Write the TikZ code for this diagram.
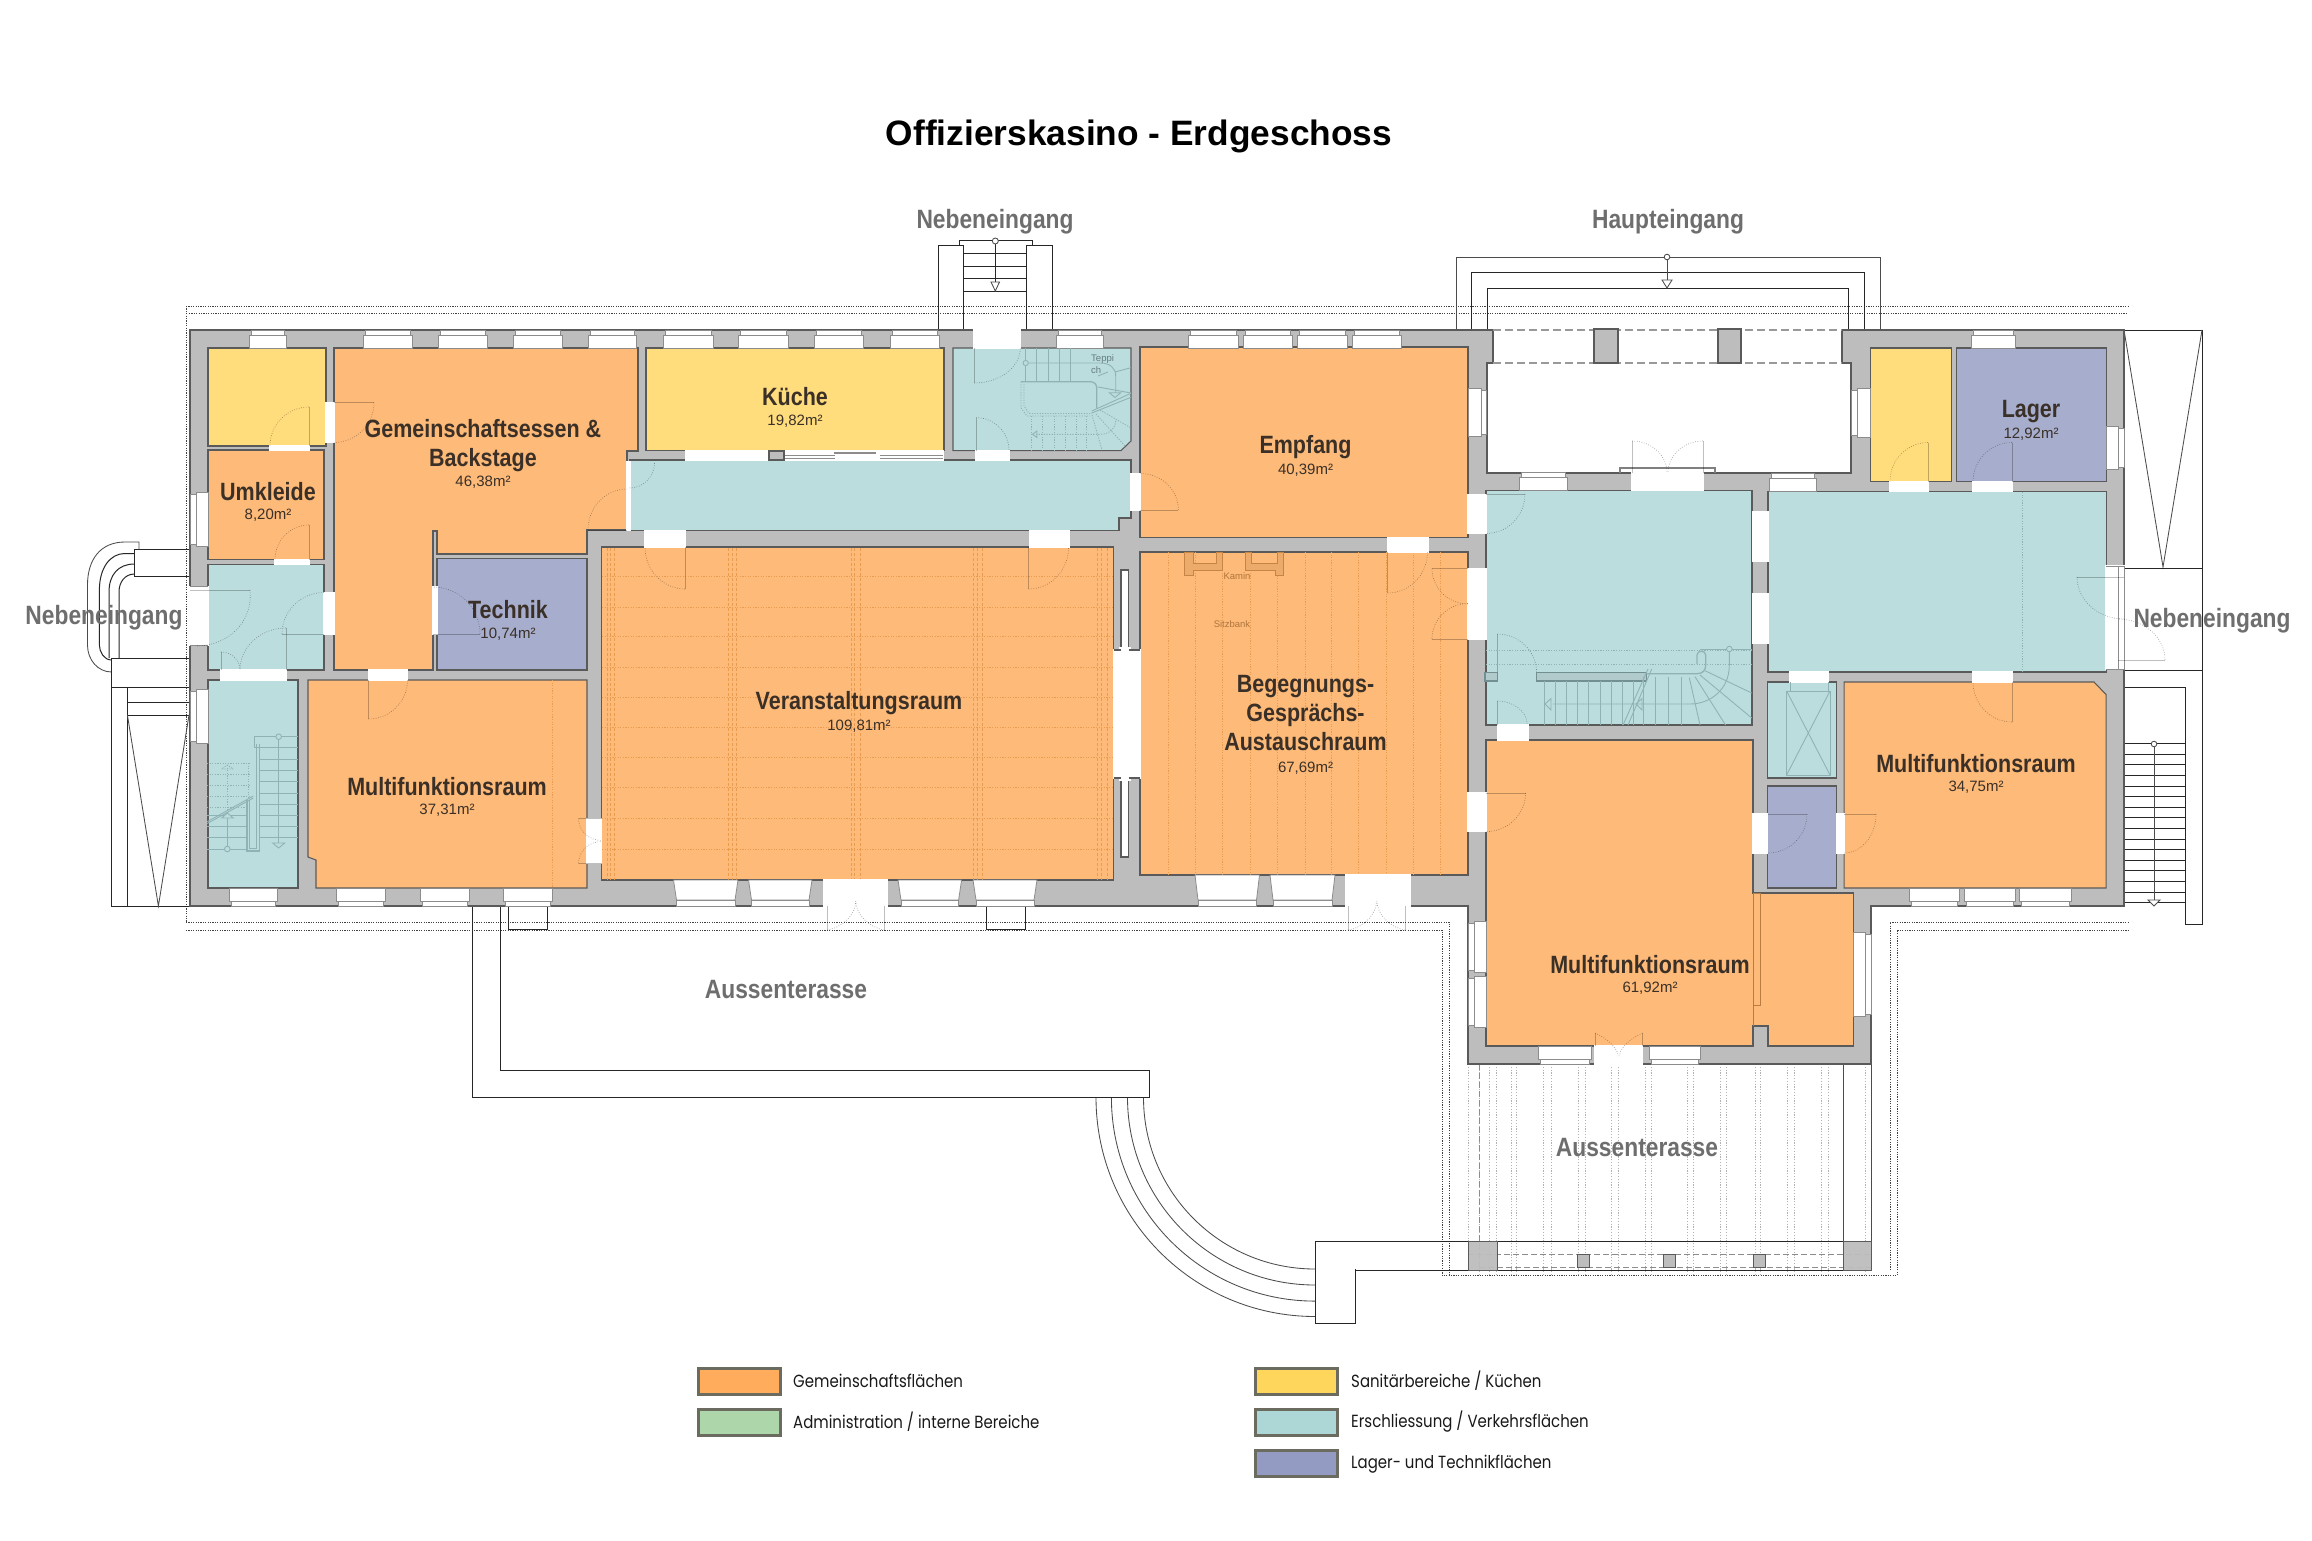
\documentclass[tikz,border=0pt]{standalone}
\usepackage{fontspec}
\setmainfont{Liberation Sans}
\newfontfamily\labf[FakeStretch=0.86]{Liberation Sans}
\newfontfamily\legf[FakeStretch=0.85]{Poppins}
\definecolor{cOr}{HTML}{FEBA78}
\definecolor{cYe}{HTML}{FFDC7C}
\definecolor{cTe}{HTML}{BCDDDD}
\definecolor{cPu}{HTML}{A7ADCC}
\definecolor{cWall}{HTML}{BDBDBD}
\definecolor{cLine}{HTML}{5A5A5A}
\definecolor{cStair}{HTML}{8FB3B5}
\definecolor{cHatch}{HTML}{E99C50}
\definecolor{cText}{HTML}{3A3028}
\definecolor{cGrey}{HTML}{6E6E6E}
\definecolor{lgOr}{HTML}{FFAD5C}
\definecolor{lgGr}{HTML}{ADD6AB}
\definecolor{lgYe}{HTML}{FFD65C}
\definecolor{lgTe}{HTML}{ADD6D6}
\definecolor{lgPu}{HTML}{939BC2}
\definecolor{lgBd}{HTML}{6B6B60}
\tikzset{
 wallline/.style={draw=cLine,line width=1.2pt},
 roomline/.style={draw=cLine,line width=1.05pt,line join=miter},
 ext/.style={draw=black!85,line width=1pt},
 extthin/.style={draw=black!70,line width=0.85pt},
 dots/.style={draw=black!75,line width=0.8pt,dash pattern=on 1.2pt off 1.2pt},
 terr/.style={draw=black!30,line width=0.7pt,dash pattern=on 1.2pt off 1.6pt},
 leafl/.style={draw=black,draw opacity=.25,line width=0.8pt},
 swing/.style={draw=black,draw opacity=.35,line width=0.65pt,dash pattern=on 0.8pt off 1.6pt},
 winl/.style={fill=white,draw=black!45,line width=0.8pt},
 stl/.style={draw=cStair,line width=0.9pt},
 std/.style={draw=cStair,line width=0.9pt,dash pattern=on 1.2pt off 1.4pt},
 title/.style={font=\fontsize{35.3}{40}\selectfont\bfseries,text=black},
 rname/.style={font=\labf\fontsize{25}{29}\selectfont\bfseries,text=cText,align=center,inner sep=0pt},
 rarea/.style={font=\fontsize{15}{18}\selectfont,text=cText,inner sep=0pt},
 outer/.style={font=\labf\fontsize{26.5}{30}\selectfont\bfseries,text=cGrey,inner sep=0pt},
 legtext/.style={font=\legf\fontsize{17.6}{20}\selectfont,text=black!90,anchor=west,inner sep=0pt},
 legbox/.style={draw=lgBd,line width=3pt},
 small/.style={font=\fontsize{9.5}{11}\selectfont,inner sep=0pt,text=#1},
}
\newcommand\rmr[5]{\draw[roomline,fill=#1] (#2,#3) rectangle (#4,#5);}
\newcommand\opn[4]{\fill[white] ({#1-.7},{#2-.7}) rectangle ({#3+.7},{#4+.7});}
\newcommand\wtop[2]{\draw[winl] (#1,335) rectangle (#2,348);\draw[winl] ({#1+2},330) rectangle ({#2-2},335);}
\newcommand\wbot[2]{\draw[winl] (#1,888) rectangle (#2,901);\draw[winl] ({#1+2},901) rectangle ({#2-2},906);}
\newcommand\wtrap[4]{\draw[winl] (#1,#3) -- (#2,#3) -- ({#2-3},{#4-6}) -- ({#1+3},{#4-6}) -- cycle;\draw[winl] ({#1+3},{#4-6}) rectangle ({#2-3},#4);}
\newcommand\wver[5]{\draw[winl] (#3,#1) rectangle (#4,#2);\draw[winl] (#4,{#1+2}) rectangle (#5,{#2-2});}
\newcommand\wdh[5]{\draw[winl] (#1,#3) rectangle (#2,#4);\draw[winl] ({#1+2},#4) rectangle ({#2-2},#5);}
\newcommand\doorx[6]{\draw[leafl] (#1,#2) -- ({#1+#3},{#2+#4});
 \draw[swing] ({#1+#3},{#2+#4}) .. controls ({#1+#3+.5523*#5},{#2+#4+.5523*#6}) and ({#1+#5+.5523*#3},{#2+#6+.5523*#4}) .. ({#1+#5},{#2+#6});}
\newcommand\qcurve[6]{({#1+#3},{#2+#4}) .. controls ({#1+#3+.5523*#5},{#2+#4+.5523*#6}) and ({#1+#5+.5523*#3},{#2+#6+.5523*#4}) .. ({#1+#5},{#2+#6})}
\begin{document}
\begin{tikzpicture}[x=1pt,y=-1pt]
\useasboundingbox (0,0) rectangle (2312,1541);
\fill[white] (0,0) rectangle (2312,1541);
% ---------- dotted site lines
\draw[dots] (186,306) -- (2128,306);
\draw[dots] (189,313) -- (2128,313);
\draw[dots] (186,306) -- (186,922);
\draw[dots] (186,922) -- (1449,922) -- (1449,1275);
\draw[dots] (186,930) -- (1442,930) -- (1442,1275.5) -- (1897,1275.5) -- (1897,930) -- (2128,930);
\draw[dots] (1890,1270) -- (1890,922) -- (2128,922);
% terrace right
\foreach \z in {748,765,778,803,813,860,873,920,932,978,990,1037,1048,1110,1120,1168,1178,1228,1238,1285,1297,1343,1355,1420}
 \draw[terr] ({1050+\z/1.742},1064) -- ({1050+\z/1.742},1275);
\draw[terr] (1468,1064) -- (1468,1241);
\draw[extthin] (1843,1064) -- (1843,1241);
\draw[extthin] (1871,1064) -- (1871,1241);
\draw[draw=black!45,line width=0.9pt,dash pattern=on 6pt off 3pt] (1479,1064) -- (1479,1267);
\draw[draw=black!45,line width=0.9pt,dash pattern=on 6pt off 3pt] (1468,1254) -- (1871,1254);
\draw[draw=black!45,line width=0.9pt,dash pattern=on 6pt off 3pt] (1479,1267) -- (1871,1267);
\draw[ext] (1315,1241) -- (1871,1241);
\draw[ext] (1355,1270) -- (1871,1270);
\draw[ext,fill=white] (1315,1241) -- (1355,1241) -- (1355,1323) -- (1315,1323) -- cycle;
\fill[white] (1316,1242) rectangle (1356,1269);
\draw[ext] (1315,1241) -- (1355,1241);
\draw[draw=cLine,fill=cWall,line width=1pt,fill opacity=.95] (1468,1241) rectangle (1497,1270);
\draw[draw=cLine,fill=cWall,line width=1pt,fill opacity=.95] (1843,1241) rectangle (1871,1270);
\foreach \a in {1577,1663,1753}
 \draw[draw=cLine,fill=cWall,line width=1pt] (\a,1254) rectangle ({\a+12.5},1267);
% curved steps
\foreach \r in {171.5,187.5,203.6,219}
 \draw[extthin] \qcurve{1315}{1097.5}{-\r}{0}{0}{\r};
% L terrace
\draw[ext] (472.3,906) -- (472.3,1097.7) -- (1149,1097.7) -- (1149,1070.5) -- (500,1070.5) -- (500,906);
\draw[ext] (508,906) -- (508,929.7) -- (547.7,929.7) -- (547.7,906);
\draw[ext] (986,906) -- (986,929.7) -- (1025.6,929.7) -- (1025.6,906);
% north side stairs
\draw[ext] (938,330) -- (938,245) -- (963.7,245) -- (963.7,330);
\draw[ext] (1026.7,330) -- (1026.7,245) -- (1052,245) -- (1052,330);
\draw[ext] (959,245) -- (959,240.7) -- (1032,240.7) -- (1032,245);
\foreach \y in {253,266,278.7,291.3} \draw[ext] (963.7,\y) -- (1026.7,\y);
\draw[ext] (995.3,244) -- (995.3,282);
\draw[extthin,fill=white] (995.3,241) circle (3);
\draw[extthin,fill=white] (991,282) -- (999.5,282) -- (995.3,291) -- cycle;
% main entrance
\draw[extthin] (1456,330) -- (1456,257) -- (1880,257) -- (1880,330);
\draw[ext] (1471,330) -- (1471,272.7) -- (1864,272.7) -- (1864,330);
\draw[ext] (1487,330) -- (1487,288.3) -- (1848,288.3) -- (1848,330);
\draw[extthin] (1667,260) -- (1667,280);
\draw[extthin,fill=white] (1667,257) circle (2.8);
\draw[extthin,fill=white] (1662,280) -- (1672,280) -- (1667,288) -- cycle;
% west entrance
\draw[extthin] (139,549) -- (139,542) -- (125,542) .. controls (100,542) and (87.5,560) .. (87.5,585) -- (87.5,645) .. controls (87.5,660) and (98,672) .. (111.6,672);
\draw[ext] (134.6,553.5) -- (125,553.5) .. controls (110,553.5) and (99.4,568) .. (99.4,590) -- (99.4,645) .. controls (99.4,652) and (104,660) .. (111.6,660);
\draw[ext] (134.6,564) .. controls (118,564) and (109,575) .. (109,592) -- (109,658);
\draw[ext] (134.6,574) .. controls (125,574) and (119,582) .. (119,592) -- (119,658);
\draw[ext] (190,549) -- (134.6,549) -- (134.6,576.5) -- (190,576.5);
\draw[ext] (190,658) -- (111.6,658) -- (111.6,906) -- (190,906);
\draw[ext] (111.6,687.6) -- (190,687.6);
\draw[ext] (127,687.6) -- (127,906);
\draw[ext] (127,702) -- (190,702);
\draw[ext] (127,715) -- (190,715);
\draw[extthin] (127.4,715) -- (158.4,906) -- (189,715);
% east entrance
\draw[ext] (2124,330) -- (2202,330) -- (2202,924) -- (2185,924) -- (2185,687) -- (2124,687);
\draw[extthin] (2124,330) -- (2163,567) -- (2202,330);
\draw[ext] (2124,568) -- (2202,568);
\draw[ext] (2124,670) -- (2202,670);
\foreach \y in {743.6,754.2,764.8,775.4,786,796.6,807.2,817.8,828.4,839,849.6,860.2,870.8,881.4,892,902.5}
 \draw[ext] (2124,\y) -- (2185,\y);
\draw[extthin] (2154,747) -- (2154,900);
\draw[extthin,fill=white] (2154,744) circle (2.8);
\draw[extthin,fill=white] (2148,900) -- (2160,900) -- (2154,906) -- cycle;
% ---------- building mass
\draw[wallline,fill=cWall] (190,330) -- (1493,330) -- (1493,363) -- (1487,363) -- (1487,473) -- (1851,473) -- (1851,363) -- (1842,363) -- (1842,330) -- (2124,330) -- (2124,906) -- (1871,906) -- (1871,1064) -- (1468,1064) -- (1468,906) -- (190,906) -- cycle;
% portico
\fill[white] (1493.6,329) rectangle (1841.4,363);
\draw[draw=black!40,line width=1.2pt,dash pattern=on 8pt off 4pt] (1493,330) -- (1842,330);
\draw[draw=black!40,line width=1.2pt,dash pattern=on 8pt off 4pt] (1493,363) -- (1842,363);
\draw[wallline,fill=cWall] (1594,329) rectangle (1618,363);
\draw[wallline,fill=cWall] (1718,329) rectangle (1741,363);
% ---------- rooms
\rmr{cYe}{208}{348}{326}{446}
\rmr{cOr}{208}{450}{324}{559.5}
\rmr{cTe}{208}{564.5}{324}{670}
\rmr{cTe}{208}{680}{298}{888}
\draw[roomline,fill=cOr] (334,348) -- (638,348) -- (638,451) -- (627,451) -- (627,530) -- (587,530) -- (587,554) -- (437,554) -- (437,531) -- (433,531) -- (433,670) -- (334,670) -- cycle;
\rmr{cPu}{437}{558.6}{587}{670}
\draw[roomline,fill=cOr] (308,680) -- (587,680) -- (587,888) -- (316,888) -- (316,860) -- (308,857) -- cycle;
\rmr{cOr}{601.5}{547}{1113.6}{880}
\rmr{cYe}{646}{348}{944}{450.6}
\draw[roomline,fill=cTe] (953,348) -- (1131,348) -- (1131,441) -- (1121,450.6) -- (953,450.6) -- cycle;
\draw[roomline,fill=cTe] (629.5,460) -- (1131,460) -- (1131,510) -- (1131,518) -- (1119,518) -- (1119,530.6) -- (629.5,530.6) -- cycle;
\rmr{cOr}{1140}{347}{1468}{537.5}
\rmr{cOr}{1140}{552}{1468}{875}
\rmr{cTe}{1486}{490.4}{1752}{725}
\draw[roomline,fill=cOr] (1486,740) -- (1753,740) -- (1753,893) -- (1853,893) -- (1853,1046) -- (1768,1046) -- (1768,1026) -- (1753,1026) -- (1753,1046) -- (1486,1046) -- cycle;
\rmr{cTe}{1768}{491.6}{2106}{672}
\rmr{cTe}{1767.5}{682}{1836.6}{778}
\rmr{cPu}{1767.5}{786}{1836.6}{888}
\draw[roomline,fill=cOr] (1844,682) -- (2094,682) -- (2106,694.5) -- (2106,888) -- (1844,888) -- cycle;
\rmr{cYe}{1870}{348}{1951}{481.5}
\rmr{cPu}{1956}{348}{2106}{481.5}
% ---------- floor patterns
\foreach \y in {576.7,607,636.7,667.3,697,727.3,757,787.6,818,849}
 \draw[draw=cHatch,line width=0.7pt,dash pattern=on 1.2pt off 1.4pt] (602,\y) -- (1113,\y);
\foreach \x in {607.6,610.7,614.5,728,732,736,851,854.5,860,973,977,982.7,1097.5,1101,1107}
 \draw[draw=cHatch,line width=1pt,dash pattern=on 3pt off 2pt] (\x,548) -- (\x,880);
\foreach \x in {1168,1195,1222.6,1250,1277,1305,1331,1358.6,1386,1413,1440}
 \draw[draw=cHatch,line width=0.7pt,dash pattern=on 1.2pt off 1.4pt] (\x,552) -- (\x,875);
\draw[draw=cHatch,line width=0.7pt,dash pattern=on 1.2pt off 1.4pt] (552.5,680) -- (552.5,888);
\draw[draw=cStair,line width=0.7pt,dash pattern=on 1.2pt off 1.4pt] (2022,492) -- (2022,672);
\draw[draw=cHatch!80!black,line width=0.8pt] (1753,893) -- (1753,1026);
\draw[draw=cHatch!80!black,line width=0.8pt] (1753,893) -- (1760,893) -- (1760,1005) -- (1753,1005);
% fireplaces
\draw[draw=cHatch!85!black,fill=cHatch!85,line width=0.8pt] (1184.3,552) -- (1184.3,575.6) -- (1193.3,575.6) -- (1193.3,570) -- (1222.7,570) -- (1222.7,552) -- (1216.5,552) -- (1216.5,563.4) -- (1193.3,563.4) -- (1193.3,552) -- cycle;
\draw[draw=cHatch!85!black,fill=cHatch!85,line width=0.8pt] (1245.5,552) -- (1245.5,570) -- (1275,570) -- (1275,575.6) -- (1283.5,575.6) -- (1283.5,552) -- (1277,552) -- (1277,563.4) -- (1251.6,563.4) -- (1251.6,552) -- cycle;
% ---------- openings
\opn{326}{403}{334}{442}
\opn{270}{446}{309}{450}
\opn{275}{559.5}{309}{564.5}
\opn{324}{592.6}{334}{634}
\opn{221}{670}{286}{680}
\opn{368.5}{670}{407}{680}
\opn{627}{462}{630}{530}
\opn{433}{587}{437}{634}
\opn{587}{818.5}{601.5}{863.5}
\opn{645}{530.6}{685}{547}
\opn{1029.5}{530.6}{1069.5}{547}
\opn{686}{450.6}{769}{460}
\opn{976}{450.6}{1009}{460}
\opn{1131}{473.5}{1140.4}{510}
\opn{1113.6}{650}{1140.4}{778}
\opn{1387.5}{537.5}{1428}{552}
\opn{1468}{495}{1486}{533.5}
\opn{1468}{569}{1486}{639}
\opn{1468}{793}{1486}{831.5}
\opn{1498}{725}{1528}{740}
\opn{1752.5}{512}{1768}{561}
\opn{1752.5}{593.5}{1768}{643}
\opn{1790}{672}{1828}{682}
\opn{1973}{481.5}{2012}{491.6}
\opn{1890}{481.5}{1928}{491.6}
\opn{1973}{672}{2012}{682}
\opn{1753}{814}{1767.5}{853}
\opn{1836.6}{814}{1844}{853}
\opn{974}{329}{1020}{348}
\opn{1632}{473}{1703}{490.4}
\opn{190}{586.6}{208}{645}
\draw[draw=black!45,line width=.7pt] (190,586.6) -- (208,586.6);
\draw[draw=black!45,line width=.7pt] (190,645) -- (208,645);
\opn{2106}{566}{2124}{669}
\draw[draw=black!45,line width=.7pt] (2106,566) -- (2124,566) -- (2124,669) -- (2106,669);
\draw[draw=black!45,line width=.7pt] (2118,566) -- (2118,669);
% slots in thick wall
\draw[wallline,fill=white] (1121,570) rectangle (1128.5,650);
\draw[wallline,fill=white] (1121,778) rectangle (1128.5,857);
\opn{1120}{648}{1130}{652}
\opn{1120}{776}{1130}{780}
\draw[wallline] (1113.6,650) -- (1121,650);\draw[wallline] (1128.5,650) -- (1140,650);
\draw[wallline] (1113.6,778) -- (1121,778);\draw[wallline] (1128.5,778) -- (1140,778);
% kitchen sliding wall
\opn{784}{451}{943}{460}
\fill[black!45] (834,452) rectangle (876,454);
\draw[draw=black!45,line width=.8pt] (784,455) -- (835,455);
\draw[draw=black!45,line width=.8pt] (880,455) -- (943,455);
\draw[draw=black!45,line width=.8pt] (784,458) -- (835,458);
\draw[draw=black!45,line width=.8pt] (880,458) -- (943,458);
\draw[wallline,fill=cWall] (769,451) rectangle (784,460);
% windows top
\wtop{249}{286}\wtop{363}{412}\wtop{438}{487.5}\wtop{513}{562.5}\wtop{588}{636}
\wtop{663.5}{713}\wtop{738.5}{788}\wtop{814}{863}\wtop{890}{939}
\wtop{1056}{1103}\wtop{1188}{1238}\wtop{1243}{1292}\wtop{1297}{1347}\wtop{1352}{1401}
\wtop{1971}{2015}
% windows bottom
\wbot{229}{277}\wbot{336}{385}\wbot{420.5}{469}\wbot{503.5}{552}
\wbot{1909}{1959.6}\wbot{1964}{2015}\wbot{2019}{2071}
\wtrap{673.5}{738}{880}{906}\wtrap{748.5}{812}{880}{906}\wtrap{898}{961.6}{880}{906}\wtrap{973}{1037}{880}{906}
\wtrap{1195}{1259.5}{875}{906}\wtrap{1270}{1335}{875}{906}
\opn{823.5}{880}{887}{906}
\opn{1345.6}{875}{1410}{906}
\wdh{1538.5}{1591}{1046}{1059}{1064}
\wdh{1649}{1700}{1046}{1059}{1064}
\opn{1595}{1046}{1642.5}{1064}
% side windows
\wver{492.5}{546.6}{208}{196}{190}
\wver{689}{743}{208}{196}{190}
\wver{921}{972}{1486}{1474}{1468}
\wver{976.5}{1027.5}{1486}{1474}{1468}
\wver{932}{1016}{1853}{1865}{1871}
\wver{426}{469.6}{2106}{2118}{2124}
\wver{388}{436}{1468}{1481}{1486}
\wver{388}{437}{1870}{1857}{1851}
\wdh{1519}{1567}{490}{477}{472}
\wdh{1769}{1816}{491.6}{478}{473}
% vestibule door frame
\draw[draw=black!50,line width=1.2pt] (1620,473) -- (1620,468) -- (1715,468) -- (1715,473);
% ---------- doors
\doorx{334}{402.5}{40}{0}{0}{40}
\doorx{309}{446}{0}{-39}{-39}{0}
\doorx{309}{559.5}{0}{-34.5}{-34}{0}
\doorx{190}{590}{60}{0}{6}{56}
\doorx{324}{634}{-42}{0}{0}{-41.5}
\doorx{286}{670}{0}{-42}{-46}{0}
\doorx{221}{670}{0}{-18}{19}{0}
\doorx{368.5}{680}{0}{39}{39}{0}
\doorx{627}{530}{-39}{0}{0}{-41}
\draw[swing] \qcurve{629.5}{463}{25}{0}{0}{25};
\doorx{433}{634}{47}{0}{0}{-47}
\doorx{601.5}{818.5}{-23}{0}{0}{22}
\doorx{601.5}{863.5}{-23}{0}{0}{-22}
\doorx{685}{547}{0}{42}{-40}{0}
\doorx{1028.6}{547}{0}{42}{40}{0}
\doorx{974.3}{348}{0}{35}{46}{0}
\doorx{976}{450.6}{0}{-33}{33}{0}
\doorx{1140.4}{510}{38}{0}{0}{-36.5}
\doorx{1387.5}{552}{0}{41}{40}{0}
\doorx{1468}{568.5}{-36}{0}{0}{35.5}
\doorx{1468}{639}{-36}{0}{0}{-35.5}
\doorx{1486}{494}{39}{0}{0}{39.5}
\doorx{1497.3}{673}{0}{-39}{39.4}{0}
\doorx{1497.3}{725}{0}{-24}{30}{0}
\doorx{1486}{793}{39.6}{0}{0}{38.6}
\doorx{1632}{473}{0}{-32}{35}{0}
\doorx{1703}{473}{0}{-32}{-35}{0}
\doorx{1928}{481.5}{0}{-39}{-38}{0}
\doorx{2012}{481.5}{0}{-39}{-39}{0}
\doorx{2124}{577}{-47}{0}{0}{42}
\doorx{2118}{660}{47}{0}{0}{-41}
\doorx{2012}{682}{0}{40}{-39}{0}
\doorx{1768}{814}{39}{0}{0}{39}
\doorx{1844}{814}{32}{0}{0}{39}
\doorx{827.3}{906}{0}{24}{28.5}{-5}
\doorx{884.3}{906}{0}{24}{-28.5}{-5}
\doorx{1348.5}{906}{0}{24}{28}{-5}
\doorx{1405}{906}{0}{24}{-28}{-5}
\doorx{1595}{1046}{0}{-13}{23}{10}
\doorx{1642.5}{1046}{0}{-13}{-23}{10}
% ---------- west stair
\foreach \y in {747.7,759.3,770.7,781.7,793.3,804.3,815.7,826.7,837.7} \draw[stl] (259.3,\y) -- (298,\y);
\draw[stl] (298,736.7) -- (254.3,736.7) -- (254.3,747.7) -- (259,747.7);
\draw[stl] (278.7,739) -- (278.7,844);
\draw[stl,fill=cTe] (278.7,736.7) circle (2.8);
\draw[stl,fill=cTe] (272.7,843) -- (284.7,843) -- (278.7,848) -- cycle;
\draw[stl,line width=1.4pt] (259.3,744) -- (259.3,851) -- (247,851) -- (247,800);
\draw[stl,line width=1.4pt] (256.7,744) -- (256.7,848.5) -- (249.5,848.5) -- (249.5,800);
\draw[stl] (207.3,821.7) -- (253.3,796);
\draw[stl] (207.3,823.5) -- (253.3,798);
\foreach \y in {763.3,774.3,785.3,796.3,807.3} \draw[std] (207,\y) -- (249,\y);
\draw[std] (248.5,763) -- (248.5,798);
\foreach \y in {815.7,826.7,837.7,849} \draw[stl] (207,\y) -- (247,\y);
\draw[std] (227.3,765) -- (227.3,813);
\draw[stl] (227.3,818) -- (227.3,846);
\draw[stl,fill=cTe] (227.3,849) circle (2.8);
\draw[stl,fill=cTe] (221.7,818) -- (233.3,818) -- (227.3,813) -- cycle;
\draw[std] (221.7,769) -- (233.3,769) -- (227.3,765) -- cycle;
% ---------- NE stair
\foreach \x in {1025,1036.7,1048,1059,1070} \draw[stl] (\x,348) -- (\x,381);
\draw[stl,fill=cTe] (1025.7,363) circle (2.6);
\draw[stl] (1028.3,363) -- (1100,363) .. controls (1110,363) and (1115.7,368) .. (1115.7,376) -- (1115.7,393);
\draw[stl,line width=1.3pt] (1021,381.7) -- (1090,381.7) .. controls (1094,381.7) and (1096.7,384) .. (1096.7,388) -- (1096.7,408);
\draw[stl] (1091.7,411) -- (1131,393.3);
\draw[stl] (1091.7,413) -- (1131,397.3);
\draw[std] (1021,381.7) -- (1021,408) -- (1027,416) -- (1090,416);
\draw[std] (1024,384) -- (1024,406) -- (1029,413.5) -- (1092,413.5);
\foreach \x in {1031.7,1042.7,1054,1065,1076.7,1086.7} \draw[std] (\x,416) -- (\x,450.6);
\draw[std] (1036,434.3) -- (1100,434.3) .. controls (1110,434.3) and (1115.7,428) .. (1115.7,420);
\draw[stl] (1032.5,434.3) -- (1037,431) -- (1037,437.5) -- cycle;
\draw[stl] (1109.3,392.7) -- (1120.7,392.7) -- (1115,397.5) -- cycle;
\draw[stl] (1098,376) -- (1108,372);
\draw[stl] (1115,372) -- (1131,367.7);
\draw[stl] (1098,387) -- (1131,393);
\draw[std] (1100,410) -- (1131,428);
\draw[std] (1092,415) -- (1102,450);
\draw[std] (1096,414) -- (1125,446);
\node[small=cStair!70!black,anchor=west] (tep1) at (1091,359) {Teppi};
\node[small=cStair!70!black,anchor=west] (tep2) at (1091,370) {ch};
% ---------- hall stair
\draw[std] (1486,650.7) -- (1752,650.7);
\draw[std] (1486,664) -- (1752,664);
\draw[draw=cStair!80!black,fill=cStair!70,line width=1.2pt] (1536.7,672.7) rectangle (1646.7,681);
\draw[draw=cStair!80!black,fill=cStair!70,line width=1.2pt] (1485,672.7) rectangle (1497.7,681);
\foreach \x in {1544.3,1555.3,1566.7,1577.7,1588.7,1600,1611,1622,1633.3} \draw[stl] (\x,681) -- (\x,725);
\foreach \x in {1643.3,1655.7,1668.3,1681} \draw[stl] (\x,676.7) -- (\x,725);
\draw[stl] (1689.3,677.7) -- (1700,725);
\draw[stl] (1695,676.7) -- (1725.5,725);
\draw[stl] (1700,675) -- (1751.7,718);
\draw[stl] (1705,670.7) -- (1751.7,693);
\draw[stl,line width=1.3pt] (1646.7,673.7) -- (1697,673.7) .. controls (1703,673.7) and (1705.7,670) .. (1705.7,665) -- (1705.7,655) .. controls (1705.7,650) and (1697,650) .. (1697,655) -- (1697,664);
\draw[stl] (1700,649) -- (1752,649);
\draw[stl,fill=cTe] (1729.3,649) circle (2.8);
\draw[stl] (1729.3,652) -- (1729.3,665) .. controls (1729.3,690) and (1710,704) .. (1690,704) -- (1553,704);
\draw[stl] (1545,704) -- (1551,698.5) -- (1551,710) -- cycle;
\draw[stl] (1636,704) -- (1642,698.5) -- (1642,710) -- cycle;
\draw[stl] (1623,725) -- (1648,669);
\draw[stl] (1628,725) -- (1651.7,669);
% lift
\draw[stl] (1786.6,691) rectangle (1830,775);
\draw[stl] (1786.6,691) -- (1830,775);
\draw[stl] (1830,691) -- (1786.6,775);
\draw[stl] (1790,682) -- (1790,691);
\draw[stl] (1828,682) -- (1828,691);
% ---------- text
\node[title] (ttl) at (1139,136.5) {Offizierskasino - Erdgeschoss};
\node[outer] (ne1) at (995,221.5) {Nebeneingang};
\node[outer] (he) at (1668,221.5) {Haupteingang};
\node[outer] (ne2) at (104,618) {Nebeneingang};
\node[outer] (ne3) at (2212,621) {Nebeneingang};
\node[outer] (at1) at (786,990) {Aussenterasse};
\node[outer] (at2) at (1637,1148) {Aussenterasse};
\node[rname] (n1) at (795,396.5) {Küche};
\node[rarea] (a1) at (795,421) {19,82m²};
\node[rname] (n2) at (483,446) {Gemeinschaftsessen \&\\[0pt]Backstage};
\node[rarea] (a2) at (483,482.5) {46,38m²};
\node[rname] (n3) at (268,491.5) {Umkleide};
\node[rarea] (a3) at (268,515) {8,20m²};
\node[rname] (n4) at (508,610) {Technik};
\node[rarea] (a4) at (508,634) {10,74m²};
\node[rname] (n5) at (447,786.5) {Multifunktionsraum};
\node[rarea] (a5) at (447,810) {37,31m²};
\node[rname] (n6) at (859,703.5) {Veranstaltungsraum};
\node[rarea] (a6) at (859,726) {109,81m²};
\node[rname] (n7) at (1305.5,447.5) {Empfang};
\node[rarea] (a7) at (1305.5,470) {40,39m²};
\node[rname] (n8) at (1305.5,713) {Begegnungs-\\[0pt]Gesprächs-\\[0pt]Austauschraum};
\node[rarea] (a8) at (1305.5,768) {67,69m²};
\node[rname] (n9) at (1650,965) {Multifunktionsraum};
\node[rarea] (a9) at (1650,988) {61,92m²};
\node[rname] (n10) at (1976,764) {Multifunktionsraum};
\node[rarea] (a10) at (1976,787) {34,75m²};
\node[rname] (n11) at (2031,412) {Lager};
\node[rarea] (a11) at (2031,434) {12,92m²};
\node[small=cHatch!75!black] (k1) at (1237,576.5) {Kamin};
\node[small=cHatch!75!black] (k2) at (1232,624) {Sitzbank};
% legend
\draw[legbox,fill=lgOr] (698,1368) rectangle (780,1394);
\draw[legbox,fill=lgGr] (698,1409) rectangle (780,1435);
\draw[legbox,fill=lgYe] (1255,1368) rectangle (1337,1394);
\draw[legbox,fill=lgTe] (1255,1409) rectangle (1337,1435);
\draw[legbox,fill=lgPu] (1255,1450) rectangle (1337,1476);
\node[legtext] (l1) at (793,1381) {Gemeinschaftsflächen};
\node[legtext] (l2) at (793,1422) {Administration / interne Bereiche};
\node[legtext] (l3) at (1351,1381) {Sanitärbereiche / Küchen};
\node[legtext] (l4) at (1351,1422) {Erschliessung / Verkehrsflächen};
\node[legtext] (l5) at (1351,1464) {Lager- und Technikflächen};
\end{tikzpicture}
\end{document}
